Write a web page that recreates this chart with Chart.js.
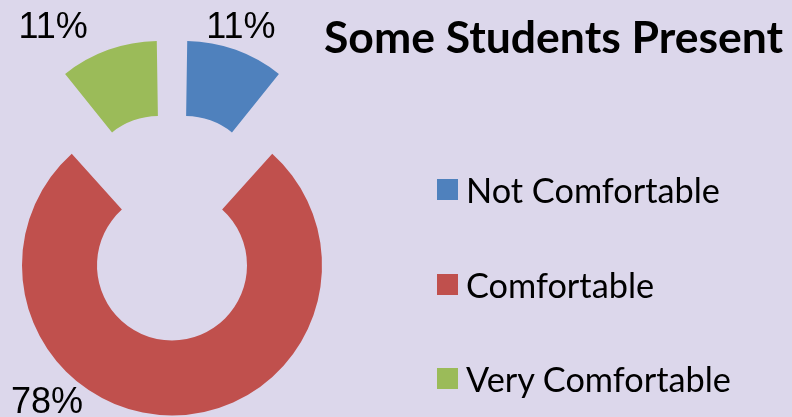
<!DOCTYPE html>
<html>
<head>
<meta charset="utf-8">
<script src="https://cdn.jsdelivr.net/npm/chart.js@4.4.1/dist/chart.umd.min.js"></script>
<style>
  html, body { margin: 0; padding: 0; }
  body { width: 792px; height: 417px; background: #DCD7EB; position: relative; overflow: hidden; }
  #chart { position: absolute; left: 0; top: 0; }
  .title {
    position: absolute; left: 324px; top: 9px; line-height: 1;
    font: bold 44.5px Lato, "Open Sans", sans-serif; color: #000; white-space: nowrap;
  }
  .legend-row {
    position: absolute; left: 437px; height: 40px;
    display: flex; align-items: center; white-space: nowrap;
    font: 34.3px Lato, "Open Sans", sans-serif; color: #000;
  }
  .legend-row .box { width: 21px; height: 21px; margin-right: 8px; }
</style>
</head>
<body>
<canvas id="chart" width="792" height="417"></canvas>
<div class="title">Some Students Present</div>
<div id="legend"></div>
<script>
// Survey answers (percent of students)
const categories = ['Not Comfortable', 'Comfortable', 'Very Comfortable'];
const percents = [11, 78, 11];
const sliceColors = ['#4F81BD', '#C0504D', '#9BBB59'];

// Chart.js moves an offset slice by offset/4 and also grows its radii a bit;
// take that growth back so every slice keeps the same ring size
const keepRing = {
  id: 'keepRing',
  afterDatasetUpdate(chart, args) {
    args.meta.data.forEach(arc => {
      const t = (arc.options.offset || 0) / 4;
      const fix = 1 - Math.sin(Math.min(Math.PI, arc.circumference || 0));
      arc.outerRadius -= t * fix;
      arc.innerRadius -= t * fix;
    });
  }
};

// percent labels, placed out from each slice's outer edge
const labelShift = [[5, -12], [-125, -2], [-55, -12]];
const pctLabels = {
  id: 'pctLabels',
  afterDatasetsDraw(chart) {
    const ctx = chart.ctx;
    const arcs = chart.getDatasetMeta(0).data;
    ctx.save();
    ctx.font = '36px "Liberation Sans", Arial, sans-serif';
    ctx.fillStyle = '#000';
    ctx.textAlign = 'center';
    ctx.textBaseline = 'alphabetic';
    arcs.forEach((arc, i) => {
      const mid = (arc.startAngle + arc.endAngle) / 2;
      const t = (arc.options.offset || 0) / 4;
      const fix = 1 - Math.sin(Math.min(Math.PI, arc.circumference || 0));
      const r = arc.outerRadius + t * fix + t;
      const x = arc.x + Math.cos(mid) * r + labelShift[i][0];
      const y = arc.y + Math.sin(mid) * r + labelShift[i][1];
      ctx.fillText(percents[i] + '%', x, y);
    });
    ctx.restore();
  }
};

new Chart(document.getElementById('chart'), {
  type: 'doughnut',
  data: {
    labels: categories,
    datasets: [{
      data: percents,
      backgroundColor: sliceColors,
      borderWidth: 0,
      offset: 153.6,
      hoverOffset: 0,
      clip: false
    }]
  },
  options: {
    responsive: false,
    animation: false,
    events: [],
    radius: 150,
    cutout: '50%',
    layout: { padding: { left: 0, right: 448, top: 37, bottom: 0 } },
    plugins: { legend: { display: false }, title: { display: false }, tooltip: { enabled: false } }
  },
  plugins: [keepRing, pctLabels]
});

// legend, one row per category
const legend = document.getElementById('legend');
categories.forEach((name, i) => {
  const row = document.createElement('div');
  row.className = 'legend-row';
  row.style.top = (189.5 + i * 94.6 - 20) + 'px';
  row.innerHTML = `<span class="box" style="background:${sliceColors[i]}"></span><span>${name}</span>`;
  legend.appendChild(row);
});
</script>
</body>
</html>
